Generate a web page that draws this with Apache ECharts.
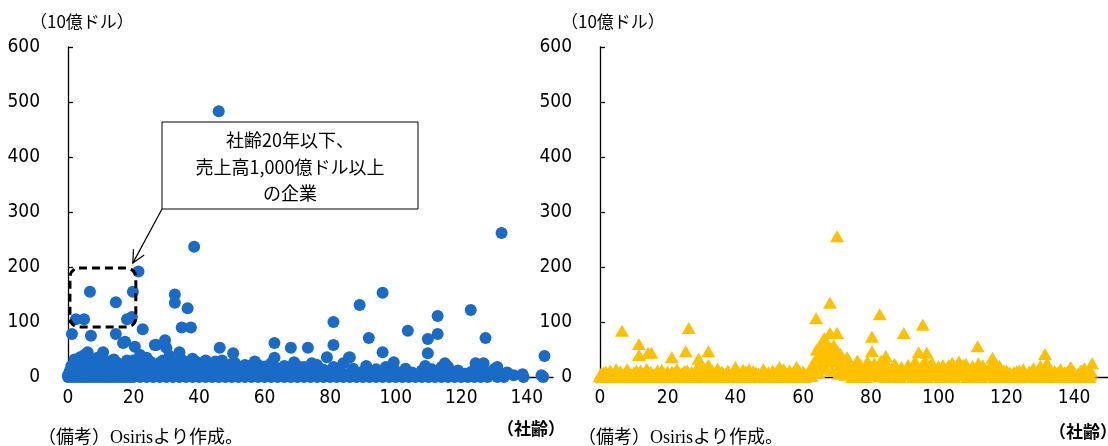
<!DOCTYPE html>
<html><head><meta charset="utf-8">
<script src="https://cdn.jsdelivr.net/npm/echarts@6/dist/echarts.min.js"></script>
<style>html,body{margin:0;padding:0;background:#fff}#c{width:1108px;height:446px}</style>
</head><body><div id="c"></div>
<script>
// Tick labels / axis settings
const yTicks = [0, 100, 200, 300, 400, 500, 600];
const xTicks = [0, 20, 40, 60, 80, 100, 120, 140];
const unitLabel = "（10億ドル）";
const xAxisLabel = "（社齢）";
const noteLabel = "（備考）Osirisより作成。";
const calloutLines = ["社齢20年以下、", "売上高1,000億ドル以上", "の企業"];

// Left panel: [社齢, 売上高(10億ドル)]
const leftOutliers = [[46,483],[38.5,237],[21.5,192],[19.8,155],[6.7,155],[14.6,136],[2.4,105],[4.9,105],[18,105],[19.5,109],[1.2,78],[7,75],[14.6,78],[22.8,87],[32.6,150],[32.6,135],[36.5,125],[34.7,90],[37.5,90],[132.3,262],[96,153],[89,131],[81,100],[122.9,122],[112.8,111],[112.8,78],[109.8,69],[103.7,84],[91.8,71],[127.4,71],[81,58],[63,62],[68,53],[73.2,53],[96,45],[109.8,43],[79,36],[85.7,35],[145.4,38],[99.4,27],[74.4,25],[63,35],[124.4,25],[126.8,25],[131,18],[138.7,5],[144.5,3],[132.6,3],[115,25],[114,18],[16.8,62],[20.4,55],[26.5,58],[29.6,67],[46.3,53],[6,45],[10.7,45],[17.4,64],[27,58],[30,53],[34,45],[50.4,43],[86,36],[3.7,36]];
const leftBase = [[0,0],[1,0],[2,0],[3,0],[4,0],[5,0],[6,0],[7,0],[8,0],[9,0],[10,0],[11,0],[12,0],[13,0],[14,0],[15,0],[16,0],[17,0],[18,0],[19,0],[20,0],[22,0],[24,0],[26,0],[28,0],[30,0],[32,0],[34,0],[36,0],[38,0],[40,0],[42,0],[44,0],[46,0],[48,0],[50,0],[52,0],[54,0],[56,0],[58,0],[60,0],[62,0],[64,0],[66,0],[68,0],[70,0],[72,0],[74,0],[76,0],[78,0],[80,0],[82,0],[84,0],[86,0],[88,0],[90,0],[92,0],[94,0],[96,0],[98,0],[100,0],[102,0],[104,0],[106,0],[108,0],[110,0],[112,0],[114,0],[116,0],[118,0],[120,0],[122,0],[124,0],[126,0],[128,0],[131,0],[133,0],[139,0],[145,0]];
const leftBand1 = [[1,8],[2,15],[3,5],[4,22],[5,12],[6,3],[7,28],[8,10],[9,18],[10,6],[11,25],[12,14],[13,4],[14,32],[15,9],[16,20],[17,2],[18,30],[19,12],[20,7],[21,24],[22,16],[23,5],[24,35],[25,11],[26,20],[27,3],[28,26],[29,14],[30,8],[31,38],[32,18],[33,6],[34,28],[35,12],[36,22],[37,4],[38,33],[39,15],[40,9],[41,25],[42,5],[43,18],[44,12],[45,28],[46,6],[47,20],[48,14],[49,3],[50,24],[51,10],[52,17],[53,5],[54,22],[55,8],[56,15],[57,28],[58,4],[59,12],[60,19],[61,6],[62,25],[63,10],[64,16],[65,3],[66,20],[67,8],[68,14],[69,27],[70,5],[71,12],[72,18],[73,4],[75,10],[76,22],[77,6],[78,13],[80,8],[81,18],[82,4],[83,12],[84,25],[86,7],[87,15],[88,3],[90,10],[91,20],[92,5],[94,14],[95,8],[97,18],[98,4],[100,11],[101,6],[103,15],[105,8],[106,3],[108,12],[109,20],[110,5],[111,14],[113,7],[115,10],[116,18],[117,4],[119,12],[121,6],[123,9],[125,15],[126,4],[127,11],[129,6],[130,14],[134,8],[136,3]];
const leftBand2 = [[0,3],[1,20],[2,32],[3,12],[4,6],[5,40],[6,18],[7,9],[8,25],[9,35],[10,14],[11,4],[12,28],[13,19],[14,10],[15,26],[16,6],[17,15],[18,22],[19,4],[20,30],[21,12],[22,40],[23,20],[24,8],[25,28],[26,5],[27,16],[28,12],[29,30],[30,20],[31,10],[32,26],[33,15],[34,5],[35,30],[36,10],[37,18],[38,8],[39,28],[40,18],[41,8],[42,30],[43,10],[44,20],[45,5],[46,14],[47,30],[48,6],[49,18],[50,10],[51,25],[52,5],[53,15],[54,8],[55,20],[56,5],[57,12],[58,22],[59,6],[60,10],[62,12],[64,4],[66,12],[68,6],[70,20],[72,8],[74,14],[76,5]];
const leftBand3 = [[0.5,10],[1.5,2],[2.5,6],[3.5,14],[4.5,2],[5.5,8],[6.5,12],[7.5,3],[8.5,6],[9.5,10],[10.5,2],[11.5,8],[12.5,5],[13.5,12],[14.5,2],[15.5,15],[16.5,10],[17.5,6],[18.5,2],[19.5,18],[20.5,3],[21.5,8],[22.5,2],[23.5,12],[24.5,4],[25.5,6],[26.5,10],[27.5,8],[28.5,3],[29.5,6],[30.5,2],[31.5,5],[32.5,10],[33.5,2],[34.5,16],[35.5,3],[36.5,6],[37.5,12],[38.5,2],[39.5,6],[41.5,3],[43.5,6],[45.5,2],[47.5,10],[49.5,6],[51.5,3],[53.5,10],[55.5,3],[57.5,6],[59.5,2]];

// Right panel: [社齢, 値(10億ドル)]
const rightOutliers = [[70,256],[67.9,135],[63.8,107],[82.6,114],[95.3,95],[89.7,80],[80.3,73],[111.5,56],[80.3,47],[131.4,42],[84.4,38],[94.1,45],[96.5,44],[145.3,25],[115.9,35],[6.5,84],[11.5,60],[11.5,40],[14.2,44],[15.2,44],[21.2,36],[26.2,89],[25.3,47],[32,47],[29.1,33],[66.2,71],[70,80],[67.9,80],[65.3,60],[69.1,47],[73,36]];
const rightBand1 = [[0,2],[1,8],[2,4],[3,12],[4,6],[5,3],[6,10],[7,5],[8,14],[9,2],[10,8],[11,4],[12,12],[13,6],[14,3],[15,9],[16,5],[17,12],[18,2],[19,7],[20,10],[21,4],[22,8],[23,3],[24,6],[25,11],[26,4],[27,9],[28,2],[29,20],[30,6],[31,14],[32,22],[33,4],[34,8],[35,3],[36,10],[37,5],[38,8],[39,3],[40,18],[41,6],[42,4],[43,10],[44,14],[45,5],[46,8],[47,2],[48,10],[49,6],[50,4],[51,12],[52,8],[53,18],[54,3],[55,7],[56,12],[57,5],[58,18],[59,8],[60,10],[61,3],[62,14],[63,25],[64,35],[65,20],[66,42],[67,30],[68,45],[69,28],[70,38],[71,22],[72,15],[73,25],[74,10],[75,18],[76,8],[77,22],[78,12],[79,28],[80,15],[81,25],[82,10],[83,30],[84,14],[85,20],[86,8],[87,24],[88,12],[89,18],[90,10],[91,22],[92,16],[93,28],[94,12],[95,20],[96,30],[97,14],[98,26],[99,10],[100,20],[101,8],[102,12],[103,22],[104,26],[105,14],[106,28],[107,18],[108,24],[109,10],[110,20],[111,16],[112,8],[113,22],[114,12],[115,18],[116,24],[117,10],[118,20],[119,6],[120,12],[121,8],[122,4],[123,10],[124,6],[125,14],[126,4],[127,8],[128,16],[129,10],[130,20],[131,6],[132,25],[133,12],[134,4],[135,8],[136,14],[137,6],[138,10],[139,18],[140,8],[141,4],[142,12],[143,16],[144,6],[145,10]];
const rightBand2 = [[0.5,0],[2.5,1],[4.5,0],[6.5,2],[8.5,0],[10.5,1],[12.5,0],[14.5,2],[16.5,0],[18.5,1],[20.5,0],[22.5,2],[24.5,0],[26.5,1],[28.5,0],[30.5,2],[32.5,0],[34.5,1],[36.5,0],[38.5,2],[40.5,0],[42.5,1],[44.5,0],[46.5,2],[48.5,0],[50.5,1],[52.5,0],[54.5,2],[56.5,0],[58.5,1],[60.5,0],[62.5,2],[64.5,8],[66.5,15],[68.5,12],[70.5,6],[72.5,4],[74.5,0],[76.5,2],[78.5,0],[80.5,4],[82.5,1],[84.5,0],[86.5,2],[88.5,0],[90.5,4],[92.5,0],[94.5,2],[96.5,0],[98.5,3],[100.5,0],[102.5,2],[104.5,0],[106.5,3],[108.5,0],[110.5,2],[112.5,0],[114.5,3],[116.5,0],[118.5,2],[120.5,0],[122.5,1],[124.5,0],[126.5,2],[128.5,0],[130.5,1],[132.5,0],[134.5,2],[136.5,0],[138.5,1],[140.5,0],[142.5,2],[144.5,0]];
const rightBand3 = [[0.25,6],[1.75,10],[3.25,4],[4.75,14],[6.25,7],[7.75,11],[9.25,5],[10.75,12],[12.25,8],[13.75,15],[15.25,6],[16.75,9],[18.25,13],[19.75,5],[21.25,10],[22.75,14],[24.25,7],[25.75,12],[27.25,5],[28.75,9],[30.25,13],[31.75,6],[33.25,11],[34.75,15],[36.25,7],[37.75,12],[39.25,9],[40.75,5],[42.25,13],[43.75,8],[45.25,11],[46.75,6],[48.25,14],[49.75,9],[51.25,5],[52.75,11],[54.25,14],[55.75,9],[57.25,6],[58.75,12],[60.25,7],[61.75,10],[63.25,15],[74.25,14],[75.75,6],[77.25,12],[78.75,8],[80.25,18],[81.75,6],[83.25,12],[84.75,22],[86.25,15],[87.75,9],[89.25,12],[90.75,16],[92.25,8],[93.75,20],[95.25,12],[96.75,18],[98.25,8],[99.75,15],[101.25,22],[102.75,6],[104.25,18],[105.75,10],[107.25,22],[108.75,14],[110.25,8],[111.75,25],[113.25,12],[114.75,6],[116.25,14],[117.75,8],[119.25,12],[120.75,5],[122.25,9],[123.75,12],[125.25,7],[126.75,10],[128.25,5],[129.75,12],[131.25,14],[132.75,8],[134.25,11],[135.75,5],[137.25,9],[138.75,12],[140.25,6],[141.75,10],[143.25,13],[144.75,4]];
const rightCluster = [[64,50],[65,40],[66,55],[67,62],[68,52],[69,58],[70,48],[71,42],[72,32],[66.5,28],[68.5,35],[76,30],[79,20],[83,18],[96,24],[104,14]];

// Callout region in data coordinates (left panel)
const boxCorners = [[0.6, 198], [20.7, 91]];

const leftData = [].concat(leftBase, leftBand3, leftBand2, leftBand1, leftOutliers);
const rightData = [].concat(rightBand2, rightBand3, rightBand1, rightCluster, rightOutliers);

const NUMFONT = "'DejaVu Sans Condensed','Noto Sans CJK JP',sans-serif";
const JPFONT = "'Noto Sans CJK JP',sans-serif";
const SERIF = "'Liberation Serif','Noto Sans CJK JP',serif";
const BLUE = '#1a6bc6', GOLD = '#FFC000';

function xAx(idx, max) {
  return {
    gridIndex: idx, type: 'value', min: 0, max: max, interval: 20,
    axisLine: { show: true, onZero: false, lineStyle: { color: '#000', width: 1.3 } },
    axisTick: { show: false }, splitLine: { show: false },
    axisLabel: { margin: 12, fontSize: 19, color: '#000', fontFamily: NUMFONT, showMaxLabel: false,
      formatter: v => xTicks.indexOf(v) >= 0 ? String(v) : '' }
  };
}
function yAx(idx) {
  return {
    gridIndex: idx, type: 'value', min: yTicks[0], max: yTicks[yTicks.length - 1], interval: 100,
    axisLine: { show: true, lineStyle: { color: '#000', width: 1.3 } },
    axisTick: { show: true, inside: true, length: 5, lineStyle: { color: '#000', width: 1.3 } },
    splitLine: { show: false },
    axisLabel: { margin: 28, fontSize: 19, color: '#000', fontFamily: NUMFONT }
  };
}

const chart = echarts.init(document.getElementById('c'), null, { renderer: 'canvas' });
chart.setOption({
  animation: false,
  backgroundColor: '#fff',
  grid: [
    { left: 68, top: 47, width: 485, height: 330 },
    { left: 600, top: 47, width: 508, height: 330 }
  ],
  xAxis: [xAx(0, 148), xAx(1, 150)],
  yAxis: [yAx(0), yAx(1)],
  series: [
    { type: 'scatter', xAxisIndex: 0, yAxisIndex: 0, data: leftData, symbol: 'circle', symbolSize: 12,
      itemStyle: { color: BLUE, opacity: 1 }, z: 2 },
    { type: 'scatter', xAxisIndex: 1, yAxisIndex: 1, data: rightData, symbol: 'triangle', symbolSize: [14, 12],
      itemStyle: { color: GOLD, opacity: 1 }, z: 2 }
  ]
});

const p1 = chart.convertToPixel({ gridIndex: 0 }, boxCorners[0]);
const p2 = chart.convertToPixel({ gridIndex: 0 }, boxCorners[1]);
const bx = Math.min(p1[0], p2[0]), by = Math.min(p1[1], p2[1]);
const bw = Math.abs(p2[0] - p1[0]), bh = Math.abs(p2[1] - p1[1]);
const tip = [p2[0] - 3, p1[1] - 5];
const callout = { x: 162, y: 122, w: 256, h: 87 };
const start = [callout.x, callout.y + callout.h];
const ang = Math.atan2(tip[1] - start[1], tip[0] - start[0]);
const ah = 14, aw = 0.45;
const a1 = [tip[0] - ah * Math.cos(ang - aw), tip[1] - ah * Math.sin(ang - aw)];
const a2 = [tip[0] - ah * Math.cos(ang + aw), tip[1] - ah * Math.sin(ang + aw)];

function txt(x, y, t, size, family, weight, align) {
  return { type: 'text', x: x, y: y, z: 10,
    style: { text: t, fontSize: size, fontFamily: family, fontWeight: weight || 'normal', fill: '#000',
      textAlign: align || 'left', textVerticalAlign: 'middle' } };
}

chart.setOption({
  graphic: [
    { type: 'rect', z: 5, shape: { x: bx, y: by, width: bw, height: bh, r: 9 },
      style: { fill: 'none', stroke: '#000', lineWidth: 3, lineDash: [8, 5] } },
    { type: 'rect', z: 6, shape: { x: callout.x, y: callout.y, width: callout.w, height: callout.h },
      style: { fill: '#fff', stroke: '#000', lineWidth: 1 } },
    txt(callout.x + callout.w / 2, 140, calloutLines[0], 18, JPFONT, 'normal', 'center'),
    txt(callout.x + callout.w / 2, 167, calloutLines[1], 18, JPFONT, 'normal', 'center'),
    txt(callout.x + callout.w / 2, 193, calloutLines[2], 18, JPFONT, 'normal', 'center'),
    { type: 'line', z: 6, shape: { x1: start[0], y1: start[1], x2: tip[0], y2: tip[1] }, style: { stroke: '#000', lineWidth: 1.2 } },
    { type: 'polyline', z: 6, shape: { points: [a1, tip, a2] }, style: { stroke: '#000', lineWidth: 1.2, fill: 'none' } },
    txt(30, 22, unitLabel, 17, JPFONT),
    txt(561, 22, unitLabel, 17, JPFONT),
    txt(497, 429, xAxisLabel, 17, JPFONT, 'bold'),
    txt(1049, 432, xAxisLabel, 17, JPFONT, 'bold'),
    txt(38, 438, noteLabel, 18, SERIF),
    txt(578, 438, noteLabel, 18, SERIF)
  ]
});
</script></body></html>
